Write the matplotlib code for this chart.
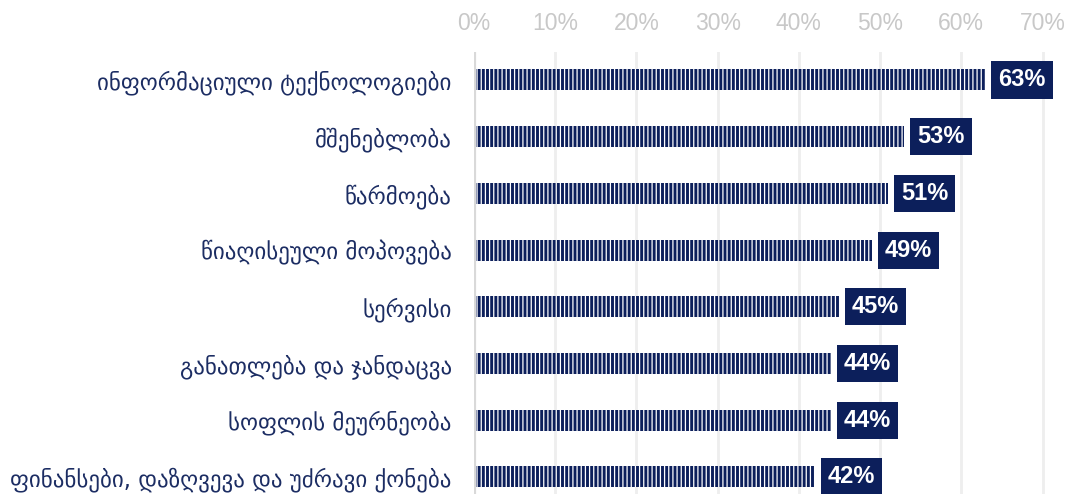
import matplotlib
matplotlib.use("Agg")
import matplotlib.pyplot as plt

categories = [
    "ინფორმაციული ტექნოლოგიები",
    "მშენებლობა",
    "წარმოება",
    "წიაღისეული მოპოვება",
    "სერვისი",
    "განათლება და ჯანდაცვა",
    "სოფლის მეურნეობა",
    "ფინანსები, დაზღვევა და უძრავი ქონება",
]
values = [63, 53, 51, 49, 45, 44, 44, 42]
ticks = [0, 10, 20, 30, 40, 50, 60, 70]
tick_labels = ["0%", "10%", "20%", "30%", "40%", "50%", "60%", "70%"]

NAVY = "#0c1f5b"
W, H = 1076, 494
fig = plt.figure(figsize=(W / 100, H / 100), dpi=100)
ax = fig.add_axes([474 / W, 0, (1071 - 474) / W, 442.4 / H])
ax.set_xlim(0, 73.5)
ax.set_ylim(7.3, -0.5)

plt.rcParams['hatch.color'] = 'white'
plt.rcParams['hatch.linewidth'] = 0.9

ypos = list(range(len(categories)))
ax.barh(ypos, values, height=0.37, color=NAVY, hatch="||||", edgecolor="white",
        linewidth=0, zorder=3)

for y, v in zip(ypos, values):
    ax.text(v + 1.55, y, f"{v}%", ha="left", va="center", color="white",
            fontsize=17, fontweight="bold", family="Liberation Sans", zorder=5,
            bbox=dict(boxstyle="square,pad=0.3", fc=NAVY, ec="none"))

for t in ticks:
    ax.axvline(t, color="#eeeeee", lw=2, zorder=1)
ax.axvline(0, color="#d9d9d9", lw=3, zorder=4)

ax.set_xticks(ticks)
ax.set_xticklabels(tick_labels, family="Liberation Sans", fontsize=16.5, color="#c8c8c8")
ax.xaxis.tick_top()
ax.tick_params(axis="x", length=0, pad=12)
ax.set_yticks(ypos)
ax.set_yticklabels(categories, family="DejaVu Sans", fontsize=16.5, color="#1c2d63")
ax.tick_params(axis="y", length=0, pad=16)
for s in ax.spines.values():
    s.set_visible(False)

fig.savefig("out.png", dpi=100)
